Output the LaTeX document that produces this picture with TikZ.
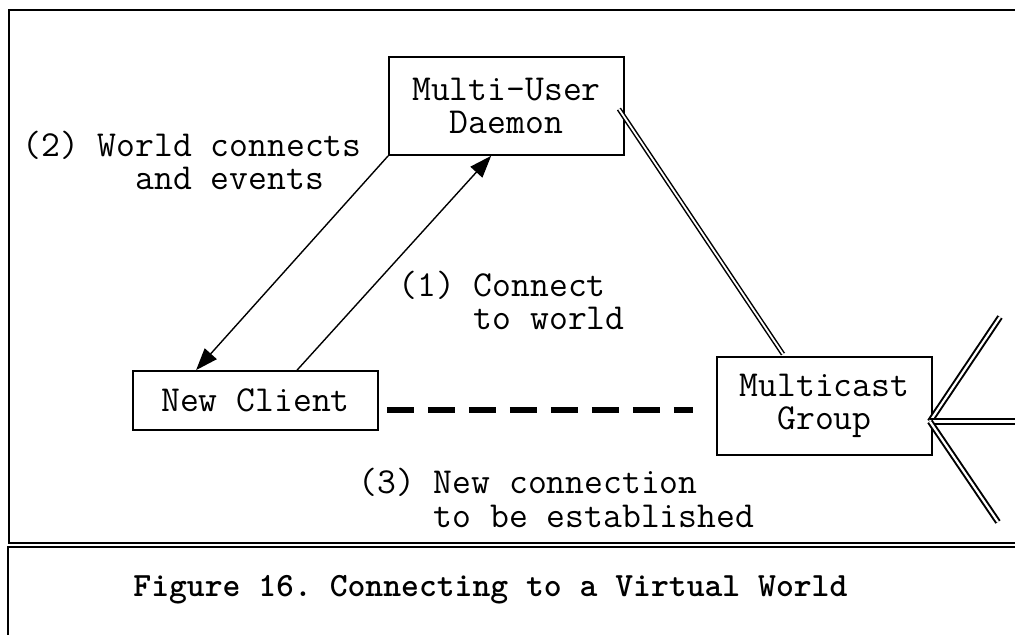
\documentclass[tikz,border=0pt]{standalone}
\usepackage{fontspec}
\usepackage{tikz}
\usetikzlibrary{arrows.meta}
\usetikzlibrary{positioning}
\tikzset{blk/.style = {draw, line width = 0.9pt, inner sep = 0, align = center, font = \ttfamily\fontsize{18.3}{16.75}\selectfont}}
\tikzset{lbl/.style = {inner sep = 0, align = left, anchor = base west, font = \ttfamily\fontsize{18.3}{16.75}\selectfont}}
\tikzset{arr/.style = {line width = 0.7pt, -{Triangle[length = 11pt, width = 8pt]}}}
\tikzset{dbl/.style = {double, line width = 0.75pt, double distance = 0.9pt}}
\tikzset{fan/.style = {double, line width = 1pt, double distance = 1.1pt}}

\begin{document}
\begin{tikzpicture}[x = 0.5pt, y = -0.5pt]
  \useasboundingbox (0, 0) rectangle (1015, 635);

  % frame and caption box
  \draw [line width = 0.8pt] (1015, 10) -- (9, 10) -- (9, 543) -- (1015, 543);
  \draw [line width = 0.8pt] (8, 640) -- (8, 547) -- (1015, 547);

  \node [blk, minimum width = 117.5pt, minimum height = 49pt] (daemon) at (506.5, 106) {Multi-User\\Daemon};
  \node [blk, minimum width = 122.5pt, minimum height = 29.5pt] (client) at (255.5, 400.5) {New Client};
  \node [blk, minimum width = 107.5pt, minimum height = 49pt] (mcast) at (824.5, 406) {Multicast\\Group};

  \draw [arr] (daemon.south west) -- ([xshift = 32pt]client.north west);
  \draw [arr] ([xshift = 82.5pt]client.north west) -- ([xshift = 51.5pt]daemon.south west);

  \draw [dbl] ([xshift = -3pt, yshift = -1.5pt]daemon.east) -- ([xshift = -20.75pt, yshift = 1pt]mcast.north);

  \draw [line width = 3.3pt, dash pattern = on 13.5pt off 7pt] ([xshift = 4pt, yshift = -4.75pt]client.east) -- ++(153pt, 0);

  % fan out of the group
  \coordinate (hub) at ([xshift = -1.5pt, yshift = -7.75pt]mcast.east);
  \coordinate (fanup) at (1000, 317);
  \coordinate (fanmid) at (1025, 421.5);
  \coordinate (fandown) at (998, 522);
  \foreach \e in {fanup, fanmid, fandown} {
    \draw [fan] (hub) -- (\e);
  }

  \node [lbl] (lblworld) at (22, 190) {(2) World connects\\\hphantom{(2)~Wo}and events};
  \node [lbl] (lblconnect) at (398, 330) {(1) Connect\\\hphantom{(1)~}to world};
  \node [lbl] (lblnew) at (358, 527) {(3) New connection\\\hphantom{(3)~}to be established};

  \node [anchor = base west, inner sep = 0, font = \ttfamily\bfseries\fontsize{17}{17}\selectfont\frenchspacing] (caption) at (133, 596) {Figure 16. Connecting to a Virtual World};
\end{tikzpicture}
\end{document}
